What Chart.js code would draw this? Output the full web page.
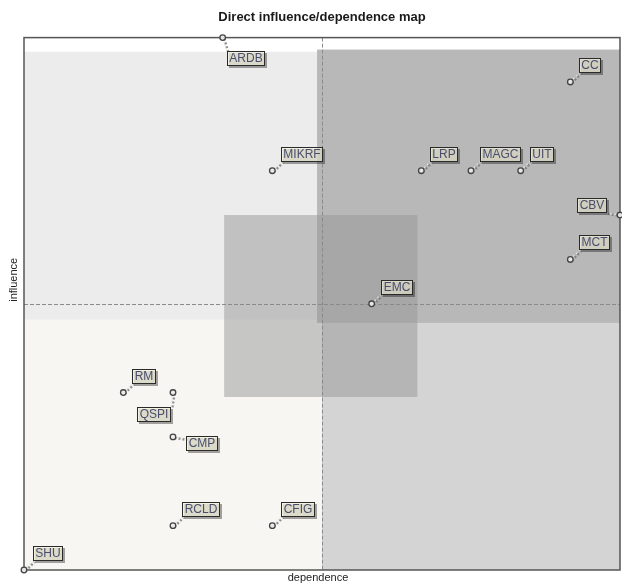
<!DOCTYPE html>
<html>
<head>
<meta charset="utf-8">
<script src="https://cdn.jsdelivr.net/npm/chart.js@4/dist/chart.umd.min.js"></script>
<style>
  html, body { margin: 0; padding: 0; background: #ffffff; }
  #wrap { width: 622px; height: 585px; position: relative; }
</style>
</head>
<body>
<div id="wrap"><canvas id="c" width="622" height="585"></canvas></div>
<script>
// ---- data ----
const variables  = ['ARDB','MIKRF','LRP','MAGC','UIT','CC','CBV','MCT','EMC','RM','QSPI','CMP','RCLD','CFIG','SHU'];
const dependence = [4, 5, 8, 9, 10, 11, 12, 11, 7, 2, 3, 3, 3, 5, 0];
const influence  = [12, 9, 9, 9, 9, 11, 8, 7, 6, 4, 4, 3, 1, 1, 0];
const axisMin = 0, axisMax = 12;
const midDependence = 6, midInfluence = 6;

// ---- label placement (style) ----
const labelPos = ['se','ne','ne','ne','ne','ne','w','ne','ne','ne','sw','e','ne','ne','ne'];

// ---- shaded zones (style), in axis units ----
const zones = [
  {x0:0,    x1:6,    y0:5.64, y1:11.68, color:'#ececec'},
  {x0:0,    x1:6,    y0:0,    y1:5.64,  color:'#f7f6f2'},
  {x0:6,    x1:12,   y0:0,    y1:5.64,  color:'#d4d4d4'},
  {x0:5.9,  x1:12,   y0:5.57, y1:11.73, color:'#b8b8b8'},
  {x0:4.03, x1:7.92, y0:3.9,  y1:8.0,   color:'rgba(150,150,150,0.5)'}
];

const points = variables.map((v, i) => ({x: dependence[i], y: influence[i]}));

const mapPlugin = {
  id: 'mapPlugin',
  beforeDatasetsDraw(chart) {
    const {ctx, chartArea: a, scales: {x, y}} = chart;
    ctx.save();
    zones.forEach(z => {
      const l = x.getPixelForValue(z.x0), r = x.getPixelForValue(z.x1);
      const t = y.getPixelForValue(z.y1), b = y.getPixelForValue(z.y0);
      ctx.fillStyle = z.color;
      ctx.fillRect(l, t, r - l, b - t);
    });
    // dashed mid lines
    ctx.strokeStyle = '#8a8a8a';
    ctx.lineWidth = 1;
    ctx.setLineDash([4, 2]);
    const mx = Math.round(x.getPixelForValue(midDependence)) + 0.5;
    const my = Math.round(y.getPixelForValue(midInfluence)) + 0.5;
    ctx.beginPath(); ctx.moveTo(mx, a.top); ctx.lineTo(mx, a.bottom); ctx.stroke();
    ctx.beginPath(); ctx.moveTo(a.left, my); ctx.lineTo(a.right, my); ctx.stroke();
    ctx.setLineDash([]);
    // frame
    ctx.strokeStyle = '#555';
    ctx.lineWidth = 1.5;
    ctx.strokeRect(a.left, a.top, a.right - a.left, a.bottom - a.top);

    // connectors
    ctx.font = '12px "Liberation Sans", Arial, sans-serif';
    chart._labelBoxes = variables.map((v, i) => {
      const px = x.getPixelForValue(dependence[i]);
      const py = y.getPixelForValue(influence[i]);
      const w = ctx.measureText(v).width;
      const bw = Math.round(w + 5), bh = 15;
      let bx, by, ex, ey;
      switch (labelPos[i]) {
        case 'se': bx = px + 4;  by = py + 13; ex = bx; ey = by; break;
        case 'w':  bx = px - 13 - bw; by = py - 2 - bh; ex = bx + bw; ey = by + bh; break;
        case 'sw': bx = px - 2 - bw;  by = py + 14; ex = bx + bw; ey = by; break;
        case 'e':  bx = px + 13; by = py - 1; ex = bx; ey = by + 3; break;
        default:   bx = px + 9;  by = py - 9 - bh; ex = bx; ey = by + bh;
      }
      bx = Math.round(bx); by = Math.round(by);
      return {v, px, py, bx, by, bw, bh, ex, ey};
    });
    chart._labelBoxes.forEach(L => {
      ctx.strokeStyle = 'rgba(120,120,120,0.8)';
      ctx.lineWidth = 2.5;
      ctx.setLineDash([2, 2]);
      ctx.beginPath(); ctx.moveTo(L.px + 1.5, L.py + 1); ctx.lineTo(L.ex + 1.5, L.ey + 1); ctx.stroke();
      ctx.strokeStyle = 'rgba(230,230,230,0.9)';
      ctx.lineWidth = 1.2;
      ctx.beginPath(); ctx.moveTo(L.px, L.py); ctx.lineTo(L.ex, L.ey); ctx.stroke();
      ctx.setLineDash([]);
    });
    ctx.restore();
  },
  afterDatasetsDraw(chart) {
    const {ctx} = chart;
    ctx.save();
    ctx.font = '12px "Liberation Sans", Arial, sans-serif';
    ctx.textAlign = 'center';
    ctx.textBaseline = 'middle';
    (chart._labelBoxes || []).forEach(L => {
      ctx.fillStyle = 'rgba(0,0,0,0.35)';
      ctx.fillRect(L.bx + 2, L.by + 2, L.bw, L.bh);
      ctx.fillStyle = 'rgba(242,240,218,0.72)';
      ctx.fillRect(L.bx, L.by, L.bw, L.bh);
      ctx.strokeStyle = '#2a2a2a';
      ctx.lineWidth = 1;
      ctx.strokeRect(L.bx + 0.5, L.by + 0.5, L.bw - 1, L.bh - 1);
      ctx.fillStyle = '#4a4e6e';
      ctx.fillText(L.v, L.bx + L.bw / 2, L.by + L.bh / 2 + 0.5);
    });
    ctx.restore();
  },
  afterDraw(chart) {
    const {ctx, chartArea: a} = chart;
    ctx.save();
    ctx.fillStyle = '#222';
    ctx.font = '11px "Liberation Sans", Arial, sans-serif';
    ctx.textAlign = 'center';
    ctx.textBaseline = 'middle';
    ctx.fillText('dependence', (a.left + a.right) / 2 - 4, a.bottom + 8);
    ctx.translate(14, (a.top + a.bottom) / 2 - 24);
    ctx.rotate(-Math.PI / 2);
    ctx.fillText('influence', 0, 0);
    ctx.restore();
  }
};

new Chart(document.getElementById('c'), {
  type: 'scatter',
  data: {
    datasets: [{
      data: points,
      pointRadius: 2.8,
      pointStyle: 'circle',
      backgroundColor: 'rgba(235,235,235,0.9)',
      borderColor: '#444',
      borderWidth: 1.3,
      clip: false
    }]
  },
  options: {
    responsive: false,
    animation: false,
    devicePixelRatio: 1,
    layout: { autoPadding: false, padding: { left: 24, right: 2, top: 0, bottom: 15 } },
    plugins: {
      legend: { display: false },
      tooltip: { enabled: false },
      title: {
        display: true,
        text: 'Direct influence/dependence map',
        color: '#1a1a1a',
        font: { family: '"Liberation Sans", Arial, sans-serif', size: 13, weight: 'bold' },
        padding: { top: 10, bottom: 12 }
      }
    },
    scales: {
      x: { type: 'linear', min: axisMin, max: axisMax, display: false },
      y: { type: 'linear', min: axisMin, max: axisMax, display: false }
    }
  },
  plugins: [mapPlugin]
});
</script>
</body>
</html>
